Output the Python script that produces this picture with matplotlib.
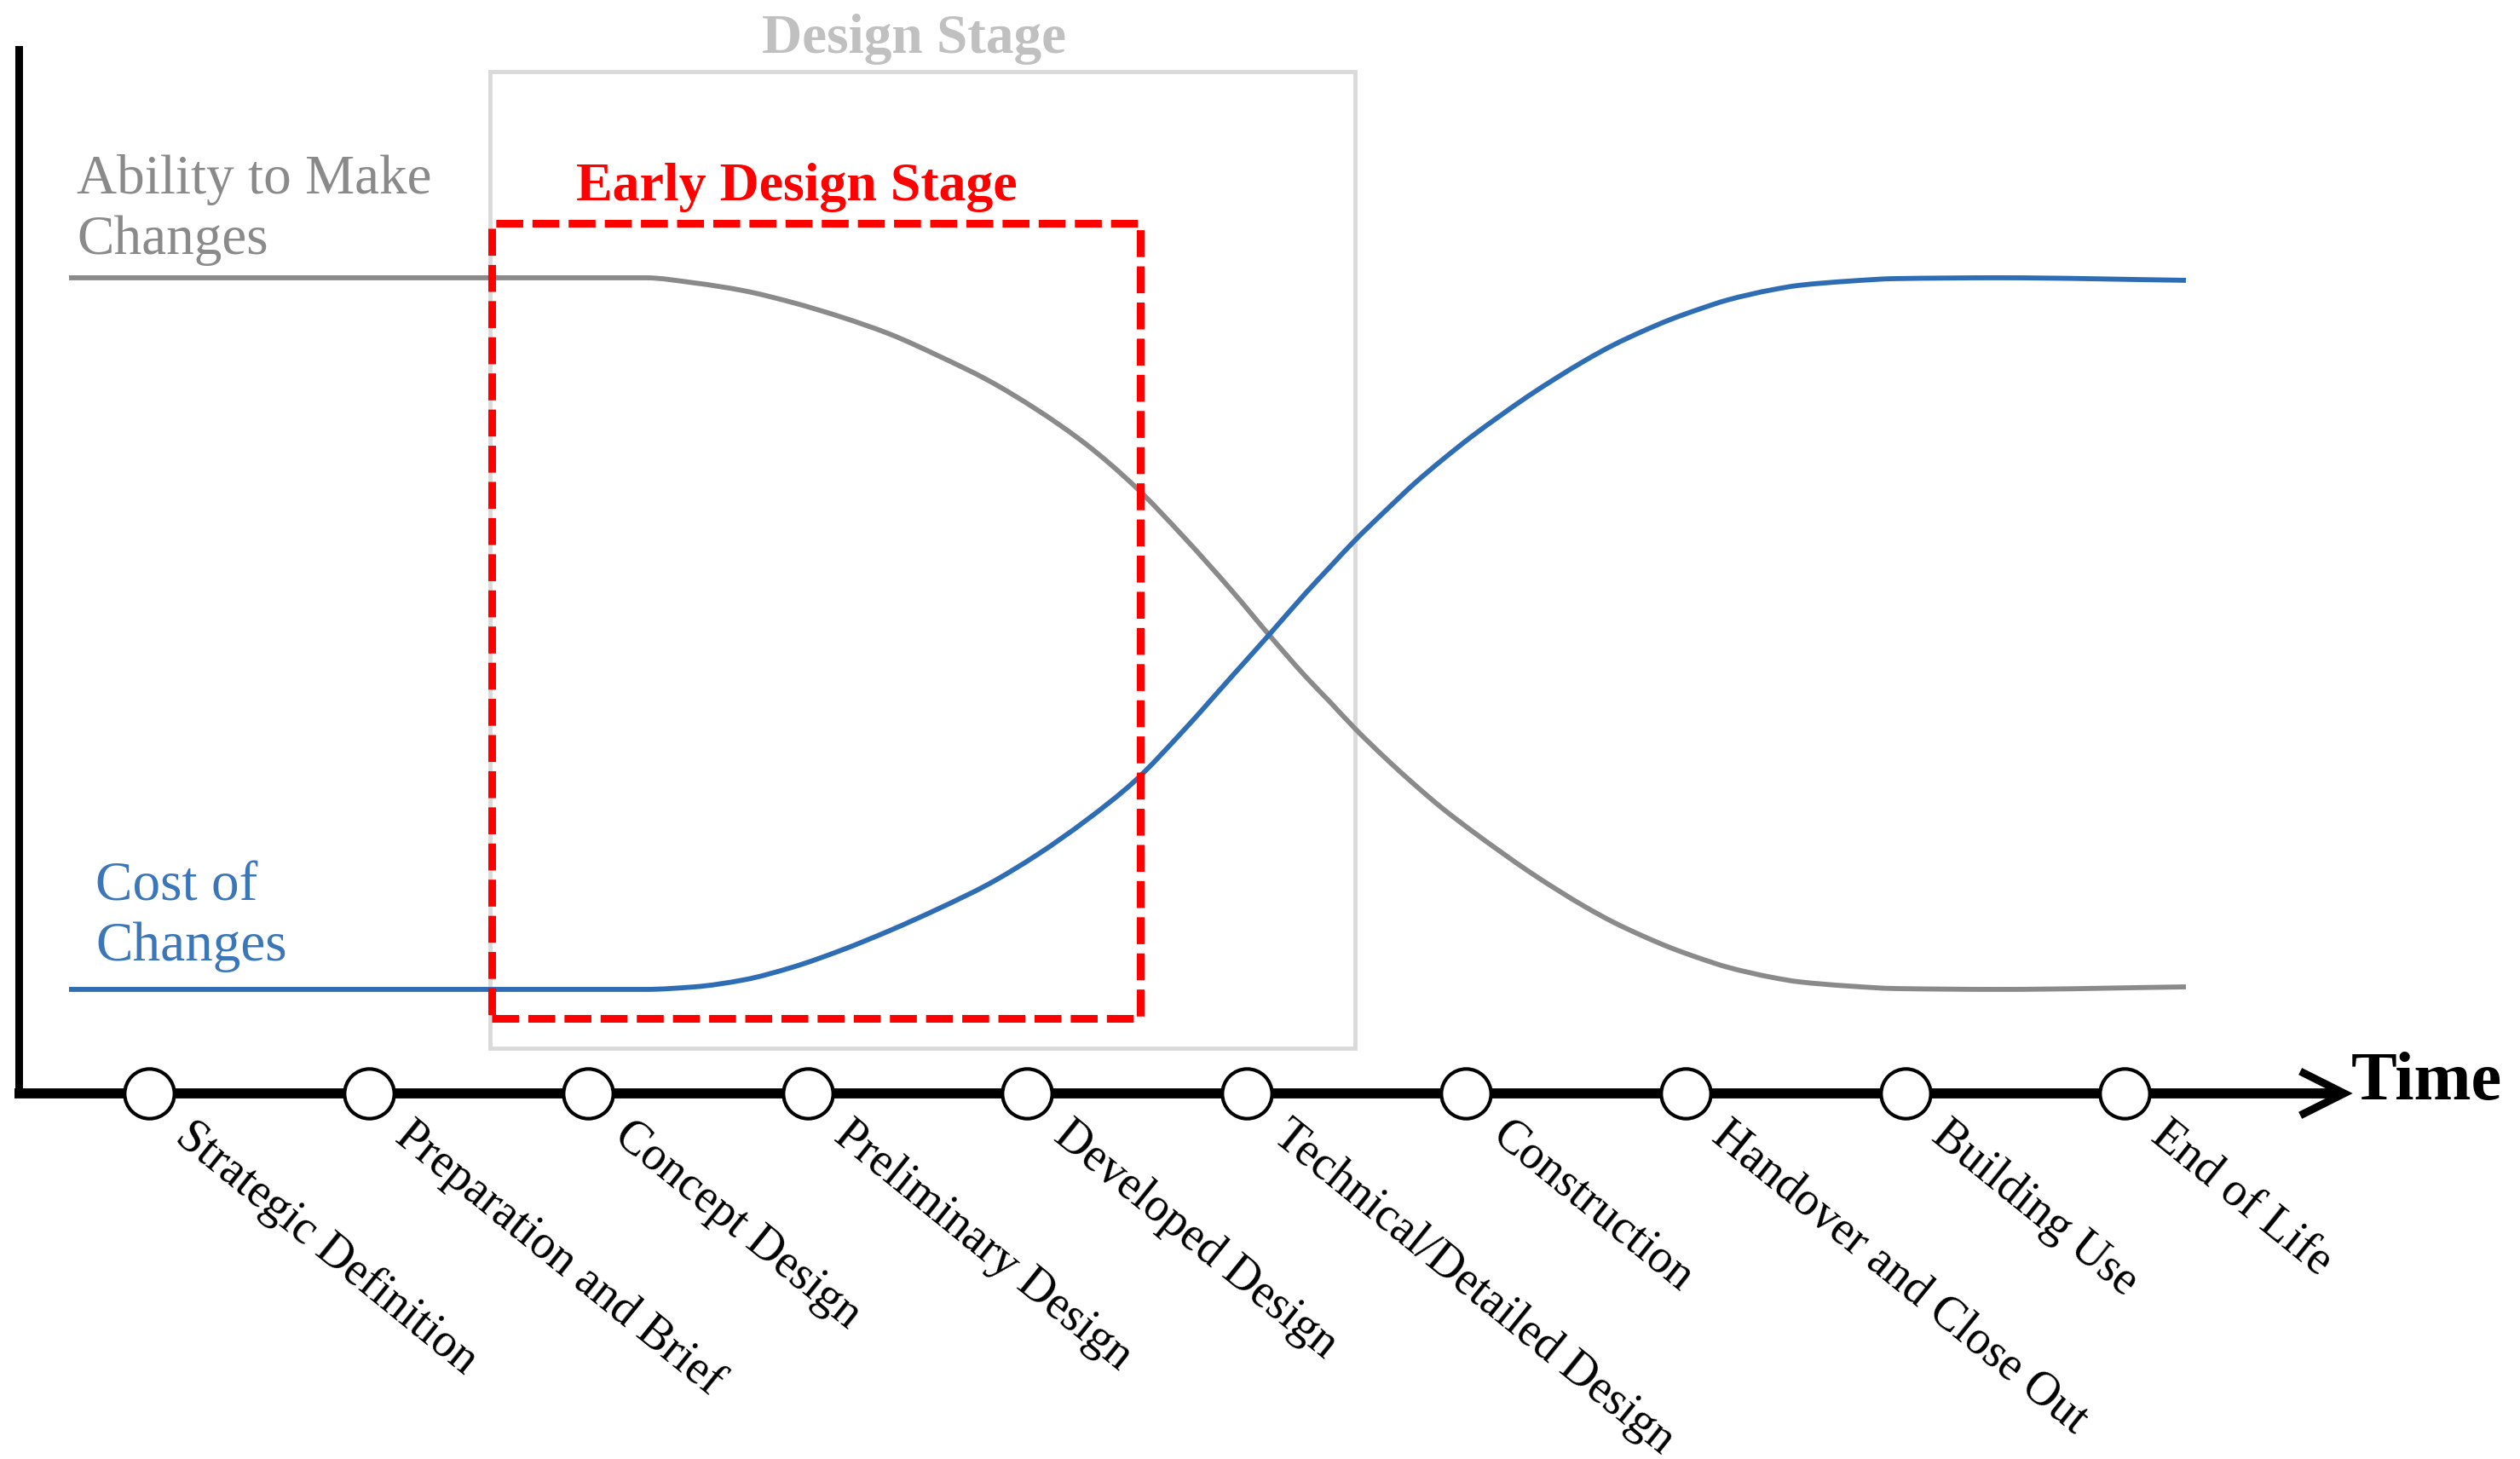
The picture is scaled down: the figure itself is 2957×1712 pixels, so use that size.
import matplotlib
matplotlib.use("Agg")
import matplotlib.pyplot as plt
from matplotlib.patches import Rectangle, PathPatch
from matplotlib.path import Path

# ---------------- data ----------------
stages = ["Strategic Definition", "Preparation and Brief", "Concept Design",
          "Preliminary Design", "Developed Design", "Technical/Detailed Design",
          "Construction", "Handover and Close Out", "Building Use", "End of Life"]
stage_pos = [1, 2, 3, 4, 5, 6, 7, 8, 9, 10]

curve_x = [0.635, 3.038, 3.260, 3.485, 3.706, 3.931, 4.153, 4.374, 4.599, 4.820,
           5.046, 5.267, 5.488, 5.713, 5.935, 6.102, 6.269, 6.377, 6.494, 6.638,
           6.766, 6.894, 7.026, 7.154, 7.282, 7.414, 7.542, 7.670, 7.802, 7.930,
           8.059, 8.191, 8.396, 8.513, 8.738, 8.959, 9.429, 10.279]
ability = [100.0, 100.0, 100.0, 99.37, 98.43, 96.97, 95.19, 93.10, 90.39, 87.46,
           83.80, 79.62, 74.50, 68.23, 61.55, 56.22, 51.10, 48.07, 44.72, 40.96,
           37.83, 34.90, 32.18, 29.68, 27.27, 24.97, 22.88, 21.00, 19.33, 17.87,
           16.61, 15.47, 14.21, 13.69, 13.17, 12.85, 12.75, 13.06]
cost = [12.75, 12.75, 12.75, 13.06, 13.90, 15.47, 17.55, 19.96, 22.68, 25.60,
        29.26, 33.44, 38.24, 44.51, 51.20, 56.22, 61.34, 64.47, 67.82, 71.58,
        74.82, 77.74, 80.56, 83.07, 85.48, 87.77, 89.86, 91.75, 93.42, 94.88,
        96.13, 97.28, 98.54, 99.06, 99.58, 99.90, 100.0, 99.69]

design_stage = (2.553, 6.494, 5.54, 125.3)        # x0, x1, y0, y1
early_stage = (2.560, 5.515, 9.2, 106.7)


def smooth_path(xs, ys):
    """Bezier path through the given points with monotone (PCHIP-style) tangents."""
    n = len(xs)
    h = [xs[i + 1] - xs[i] for i in range(n - 1)]
    d = [(ys[i + 1] - ys[i]) / h[i] for i in range(n - 1)]
    m = [0.0] * n
    m[0], m[-1] = d[0], d[-1]
    for i in range(1, n - 1):
        if d[i - 1] * d[i] <= 0:
            m[i] = 0.0
        else:
            w1 = 2 * h[i] + h[i - 1]
            w2 = h[i] + 2 * h[i - 1]
            m[i] = (w1 + w2) / (w1 / d[i - 1] + w2 / d[i])
    verts = [(xs[0], ys[0])]
    codes = [Path.MOVETO]
    for i in range(n - 1):
        verts.append((xs[i] + h[i] / 3, ys[i] + m[i] * h[i] / 3))
        verts.append((xs[i + 1] - h[i] / 3, ys[i + 1] - m[i + 1] * h[i] / 3))
        verts.append((xs[i + 1], ys[i + 1]))
        codes += [Path.CURVE4] * 3
    return Path(verts, codes)


# ---------------- figure ----------------
W, H, DPI = 2957, 1712, 100
fig = plt.figure(figsize=(W / DPI, H / DPI), dpi=DPI)
ax = fig.add_axes([0, 0, 1, 1])
ax.set_xlim(0.3206, 11.801)
ax.set_ylim(-44.83, 134.06)
ax.axis("off")

SERIF = ["Liberation Serif", "DejaVu Serif"]
GRAY = "#8a8a8a"
BLUE = "#2e6db4"
BLUE_TXT = "#3a76b8"
RED = "#ff0000"

# design stage box
x0, x1, y0, y1 = design_stage
ax.add_patch(Rectangle((x0, y0), x1 - x0, y1 - y0, fill=False,
                       ec="#dadada", lw=3.5, zorder=1))
ax.text(4.485, 127.6, "Design Stage", color="#c0c0c0", fontsize=47,
        fontweight="bold", family=SERIF, ha="center", va="baseline")

# curves
ax.add_patch(PathPatch(smooth_path(curve_x, ability), fill=False, ec=GRAY,
                       lw=4.2, capstyle="butt", zorder=3))
ax.add_patch(PathPatch(smooth_path(curve_x, cost), fill=False, ec=BLUE,
                       lw=4.2, capstyle="butt", zorder=3))

# early design stage box
x0, x1, y0, y1 = early_stage
ax.add_patch(Rectangle((x0, y0), x1 - x0, y1 - y0, fill=False, ec=RED,
                       lw=6.5, ls=(0, (3.5, 1.2)), zorder=4))
ax.text(2.945, 109.5, "Early Design Stage", color=RED, fontsize=46,
        fontweight="bold", family=SERIF, ha="left", va="baseline")

# curve labels
ax.text(0.67, 110.3, "Ability to Make", color=GRAY, fontsize=47,
        family=SERIF, ha="left", va="baseline")
ax.text(0.67, 102.9, "Changes", color=GRAY, fontsize=47,
        family=SERIF, ha="left", va="baseline")
ax.text(0.755, 23.7, "Cost of", color=BLUE_TXT, fontsize=47,
        family=SERIF, ha="left", va="baseline")
ax.text(0.755, 16.3, "Changes", color=BLUE_TXT, fontsize=47,
        family=SERIF, ha="left", va="baseline")

# axes
ax.plot([0.406, 0.406], [0, 128.0], color="black", lw=6.5,
        solid_capstyle="projecting", zorder=5)
ax.plot([0.387, 10.99], [0, 0], color="black", lw=8.5,
        solid_capstyle="butt", zorder=5)
ax.plot([11.0 - 0.20, 11.0, 11.0 - 0.20], [2.7, 0, -2.7], color="black",
        lw=6.5, solid_joinstyle="miter", solid_capstyle="butt", zorder=5)
ax.text(11.03, -0.7, "Time", color="black", fontsize=58, fontweight="bold",
        family=SERIF, ha="left", va="baseline")

# stage markers
ax.plot(stage_pos, [0] * len(stage_pos), ls="none", marker="o", ms=42,
        mfc="white", mec="black", mew=3, zorder=6)

# stage labels
for xp, lab in zip(stage_pos, stages):
    ax.text(xp + 0.21, -2.4, lab, rotation=-39, rotation_mode="anchor",
            ha="left", va="top", fontsize=40, family=SERIF, color="black")

fig.savefig("out.png", dpi=DPI, facecolor="white")
